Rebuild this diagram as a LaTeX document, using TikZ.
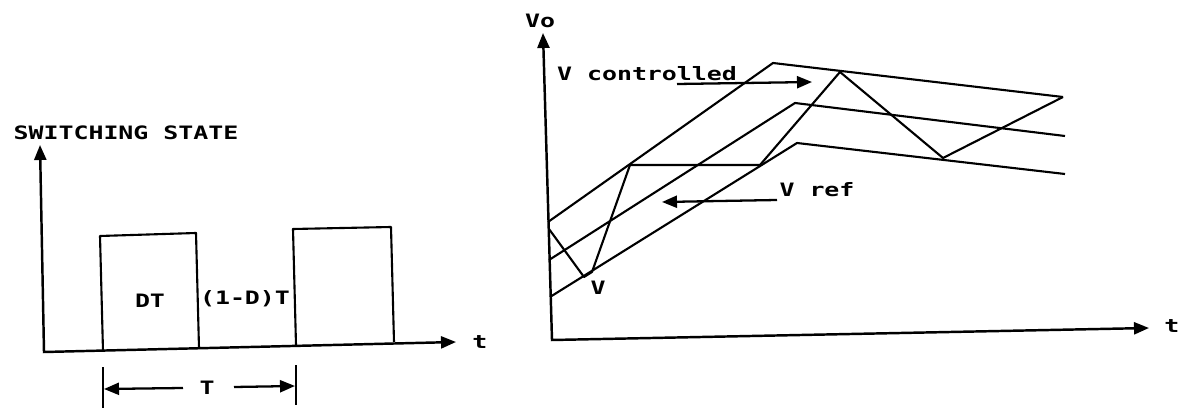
\documentclass[tikz,border=0pt]{standalone}
\usepackage{fontspec}
\newfontfamily\dotfont[FakeStretch=1.35]{DejaVu Sans Mono}
\usetikzlibrary{arrows.meta}
\begin{document}
\begin{tikzpicture}[x=0.02cm,y=-0.02cm,
  axisline/.style={line width=1.4pt,{Triangle[length=0.3cm,width=0.24cm]}-{Triangle[length=0.3cm,width=0.24cm]}},
  trace/.style={line width=1.2pt,line join=round},
  tick/.style={line width=1.3pt},
  dimarrow/.style={line width=1.3pt,-{Triangle[length=0.3cm,width=0.24cm]}},
  lbl/.style={font=\dotfont\bfseries\fontsize{10.5}{12}\selectfont,inner sep=0pt,text height=7.6pt,text depth=0pt}
]
\useasboundingbox (0,0) rectangle (1181,412);

% ---------------- left: switching state ----------------
\coordinate (ly) at (40,145);
\coordinate (lo) at (44,352);
\coordinate (lx) at (456,342);
\draw[axisline] (ly) -- (lo) -- (lx);
\node[lbl] (sw) at (126,133) {SWITCHING STATE};
\node[lbl,anchor=west] (lt) at (472,342) {t};

\draw[trace] (103,351) -- (100,236) -- (196,233) -- (199,348);
\draw[trace] (296,345) -- (293,229) -- (391,227) -- (394,342);

\node[lbl] (dt) at (150,301) {DT};
\node[lbl] (odt) at (245,298) {(1-D)T};

\draw[tick] (103,367) -- (103,408);
\draw[tick] (296,365) -- (296,405);
\node[lbl] (T) at (207,388) {T};
\coordinate (tl) at (104,389);
\coordinate (tr) at (295,386);
\coordinate (tls) at (183,388);
\coordinate (trs) at (234,387);
\draw[dimarrow] (tls) -- (tl);
\draw[dimarrow] (trs) -- (tr);

% ---------------- right: Vo ----------------
\coordinate (ry) at (543,33);
\coordinate (ro) at (552,340);
\coordinate (rx) at (1149,328);
\draw[axisline] (ry) -- (ro) -- (rx);
\node[lbl] (vo) at (540,21) {Vo};
\node[lbl,anchor=west] (rt) at (1164,326) {t};

% three bands
\draw[trace] (548,222) -- (773,63) -- (1063,97);
\draw[trace] (549,260) -- (795,103) -- (1065,136);
\draw[trace] (550,297) -- (797,143) -- (1065,174);

% controlled voltage (sawtooth)
\draw[trace] (549,229) -- (584,277) -- (592,272) -- (630,165) -- (760,165)
  -- (840,72) -- (943,158) -- (1063,97);

\node[lbl] (vc) at (647,74) {V controlled};
\coordinate (vcs) at (677,84);
\coordinate (vct) at (812,82);
\draw[dimarrow] (vcs) -- (vct);

\node[lbl] (vr) at (817,190) {V ref};
\coordinate (vrs) at (777,200);
\coordinate (vrt) at (662,202);
\draw[dimarrow] (vrs) -- (vrt);

\node[lbl] (vv) at (598,288) {V};
\end{tikzpicture}
\end{document}
